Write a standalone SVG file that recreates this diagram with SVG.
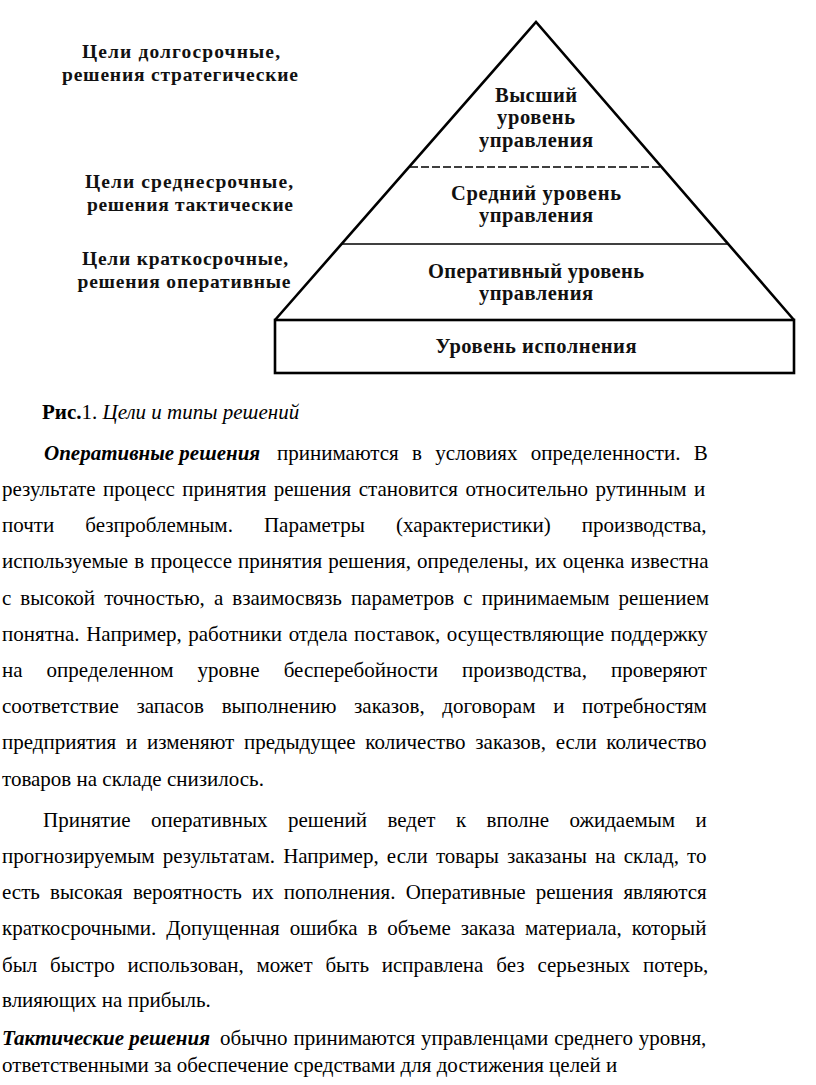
<svg xmlns="http://www.w3.org/2000/svg" width="816" height="1085" viewBox="0 0 816 1085">
<style>
.lbl{font-family:"Liberation Serif",serif;font-size:19.5px;font-weight:bold;fill:#111;text-anchor:middle}
.lvl{font-family:"Liberation Serif",serif;font-size:20.5px;font-weight:bold;fill:#111;text-anchor:middle}
.b{font-family:"Liberation Serif",serif;font-size:21px;fill:#000}
.bi{font-weight:bold;font-style:italic}
.bo{font-weight:bold}
.it{font-style:italic}
.edge{fill:none;stroke:#000;stroke-width:2.6;stroke-linejoin:miter}
.sep{stroke:#000;stroke-width:1.4}
.dash{stroke:#000;stroke-width:1.4;stroke-dasharray:8 3}
</style>
<rect width="816" height="1085" fill="#fff"/>
<g id="labels">
<g id="label-strategic">
<text class="lbl" x="181" y="58" textLength="198" lengthAdjust="spacing">Цели долгосрочные,</text>
<text class="lbl" x="180" y="81" textLength="236" lengthAdjust="spacing">решения стратегические</text>
</g>
<g id="label-tactical">
<text class="lbl" x="189" y="188" textLength="208" lengthAdjust="spacing">Цели среднесрочные,</text>
<text class="lbl" x="190" y="211" textLength="206" lengthAdjust="spacing">решения тактические</text>
</g>
<g id="label-operational">
<text class="lbl" x="185" y="265" textLength="206" lengthAdjust="spacing">Цели краткосрочные,</text>
<text class="lbl" x="184" y="288" textLength="213" lengthAdjust="spacing">решения оперативные</text>
</g>
</g>
<g id="pyramid">
<polyline class="edge" points="275,320 536,22 794,320"/>
<rect class="edge" x="275" y="320" width="519" height="53"/>
</g>
<g id="connectors">
<line class="dash" x1="410" y1="167" x2="661" y2="167"/>
<line class="sep" x1="342" y1="244" x2="728" y2="244"/>
</g>
<g id="level-top">
<text class="lvl" x="536" y="102" textLength="82" lengthAdjust="spacing">Высший</text>
<text class="lvl" x="536" y="124" textLength="78" lengthAdjust="spacing">уровень</text>
<text class="lvl" x="536" y="147" textLength="114" lengthAdjust="spacing">управления</text>
</g>
<g id="level-middle">
<text class="lvl" x="536" y="200" textLength="170" lengthAdjust="spacing">Средний уровень</text>
<text class="lvl" x="536" y="222" textLength="114" lengthAdjust="spacing">управления</text>
</g>
<g id="level-operational">
<text class="lvl" x="536" y="278" textLength="216" lengthAdjust="spacing">Оперативный уровень</text>
<text class="lvl" x="536" y="300" textLength="114" lengthAdjust="spacing">управления</text>
</g>
<g id="level-execution">
<text class="lvl" x="536" y="353" textLength="201" lengthAdjust="spacing">Уровень исполнения</text>
</g>
<g id="caption">
<text class="b" x="42" y="419"><tspan class="bo">Рис.</tspan>1. <tspan class="it">Цели и типы решений</tspan></text>
</g>
<g id="body">
<text class="b bi" x="44" y="460">Оперативные решения</text>
<text class="b" x="277" y="460" style="word-spacing:8.1px">принимаются в условиях определенности. В</text>
<text class="b" x="2" y="496" style="word-spacing:2.2px">результате процесс принятия решения становится относительно рутинным и</text>
<text class="b" x="2" y="532" style="word-spacing:25.8px">почти безпроблемным. Параметры (характеристики) производства,</text>
<text class="b" x="2" y="568" style="word-spacing:0.9px">используемые в процессе принятия решения, определены, их оценка известна</text>
<text class="b" x="2" y="605" style="word-spacing:3.8px">с высокой точностью, а взаимосвязь параметров с принимаемым решением</text>
<text class="b" x="2" y="641" style="word-spacing:1.3px">понятна. Например, работники отдела поставок, осуществляющие поддержку</text>
<text class="b" x="2" y="677" style="word-spacing:18.8px">на определенном уровне бесперебойности производства, проверяют</text>
<text class="b" x="2" y="713" style="word-spacing:12.4px">соответствие запасов выполнению заказов, договорам и потребностям</text>
<text class="b" x="2" y="749" style="word-spacing:4.5px">предприятия и изменяют предыдущее количество заказов, если количество</text>
<text class="b" x="2" y="786">товаров на складе снизилось.</text>
<text class="b" x="43" y="827" style="word-spacing:15.2px">Принятие оперативных решений ведет к вполне ожидаемым и</text>
<text class="b" x="2" y="863" style="word-spacing:2.9px">прогнозируемым результатам. Например, если товары заказаны на склад, то</text>
<text class="b" x="2" y="899" style="word-spacing:4.9px">есть высокая вероятность их пополнения. Оперативные решения являются</text>
<text class="b" x="2" y="935" style="word-spacing:4.7px">краткосрочными. Допущенная ошибка в объеме заказа материала, который</text>
<text class="b" x="2" y="972" style="word-spacing:7.6px">был быстро использован, может быть исправлена без серьезных потерь,</text>
<text class="b" x="2" y="1007">влияющих на прибыль.</text>
<text class="b bi" x="2" y="1045">Тактические решения</text>
<text class="b" x="220" y="1045" style="word-spacing:0.6px">обычно принимаются управленцами среднего уровня,</text>
<text class="b" x="2" y="1072">ответственными за обеспечение средствами для достижения целей и</text>
</g>
</svg>
